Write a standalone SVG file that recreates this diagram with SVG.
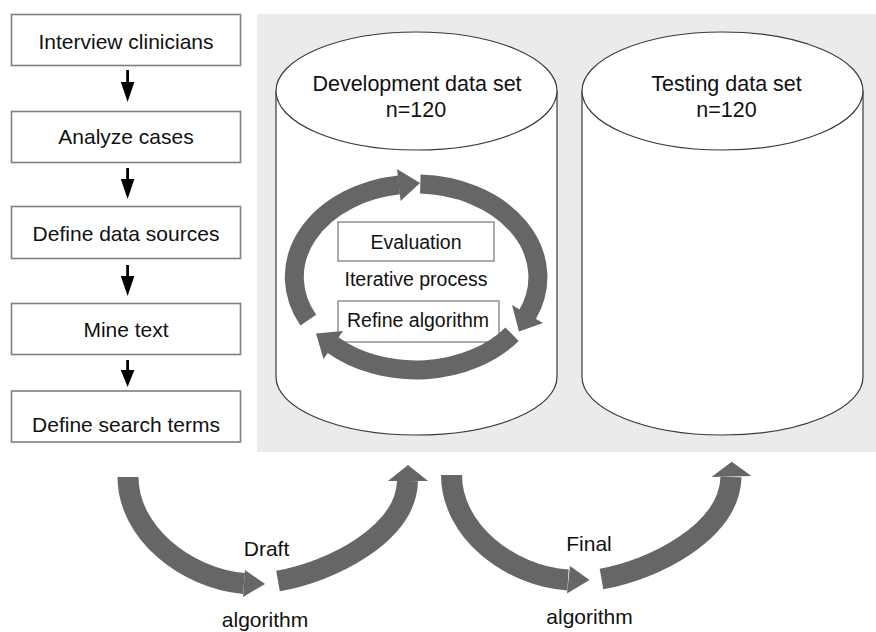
<svg xmlns="http://www.w3.org/2000/svg" width="876" height="632" viewBox="0 0 876 632">
  <style>
    .box { fill: #ffffff; stroke: #808080; stroke-width: 1.6; }
    .ibox { fill: #ffffff; stroke: #808080; stroke-width: 1.3; }
    .cyl { fill: #ffffff; stroke: #3a3a3a; stroke-width: 1.2; }
    .t { font-family: "Liberation Sans", Arial, Helvetica, sans-serif; fill: #111111; text-anchor: middle; }
    .band { fill: none; stroke: #666666; stroke-linecap: butt; }
    .head { fill: #666666; }
  </style>
  <rect x="0" y="0" width="876" height="632" fill="#ffffff"/>
  <rect id="panel" x="257" y="14" width="619" height="438" fill="#ebebeb"/>

  <g id="n1"><rect class="box" x="11.5" y="14.5" width="229" height="51"/><text class="t" x="126" y="49" font-size="21">Interview clinicians</text></g>
  <g id="n2"><rect class="box" x="11.5" y="111.5" width="229" height="51"/><text class="t" x="126" y="144" font-size="21">Analyze cases</text></g>
  <g id="n3"><rect class="box" x="11.5" y="206.5" width="229" height="52"/><text class="t" x="126" y="240.5" font-size="21">Define data sources</text></g>
  <g id="n4"><rect class="box" x="11.5" y="303.5" width="229" height="51"/><text class="t" x="126" y="336.5" font-size="21">Mine text</text></g>
  <g id="n5"><rect class="box" x="11.5" y="391" width="229" height="51"/><text class="t" x="126" y="432" font-size="21">Define search terms</text></g>

  <g id="dev">
    <path class="cyl" d="M276,91 L276,377 A140.5,58 0 0 0 557,377 L557,91"/>
    <ellipse class="cyl" cx="416.5" cy="91" rx="140.5" ry="59"/>
    <text class="t" x="417" y="91" font-size="21.5">Development data set</text>
    <text class="t" x="416" y="116.5" font-size="21.5">n=120</text>
  </g>
  <g id="test">
    <path class="cyl" d="M582,91 L582,377 A140.5,58 0 0 0 863,377 L863,91"/>
    <ellipse class="cyl" cx="722.5" cy="91" rx="140.5" ry="59"/>
    <text class="t" x="726.5" y="91" font-size="21.5">Testing data set</text>
    <text class="t" x="726.5" y="116.5" font-size="21.5">n=120</text>
  </g>

  <g id="eval"><rect class="ibox" x="338" y="222" width="156" height="39"/><text class="t" x="416" y="248.5" font-size="19.5">Evaluation</text></g>
  <text id="iter" class="t" x="416" y="286" font-size="19.5">Iterative process</text>
  <g id="refine"><rect class="ibox" x="338" y="301" width="161" height="41"/><text class="t" x="418" y="327" font-size="19.5">Refine algorithm</text></g>

  <g id="connectors">
    <!-- left column arrows -->
    <g fill="#000000">
      <rect x="126.2" y="70" width="2.8" height="13"/><polygon points="120.8,82 134.4,82 127.6,102"/>
      <rect x="126.2" y="168" width="2.8" height="12"/><polygon points="120.8,179 134.4,179 127.6,199"/>
      <rect x="126.2" y="265" width="2.8" height="12"/><polygon points="120.8,276 134.4,276 127.6,296"/>
      <rect x="126.2" y="360" width="2.8" height="11"/><polygon points="120.8,370 134.4,370 127.6,387"/>
    </g>
    <!-- iterative ring -->
    <path class="band" stroke-width="19" d="M308.3,320.2 A122,93 0 0 1 399,184.9"/>
    <polygon class="head" points="397,169 420,183 400.6,201"/>
    <path class="band" stroke-width="19" d="M420.3,184.1 A122,93 0 0 1 527.4,314.8"/>
    <polygon class="head" points="543,323 519,331.5 512,305"/>
    <path class="band" stroke-width="19" d="M512.1,334.3 A122,93 0 0 1 332.8,345"/>
    <polygon class="head" points="343,331 316,333.5 323.5,359"/>
  </g>
  <g id="bottom-arrows">
    <!-- draft algorithm arrows -->
    <path class="band" stroke="#646464" stroke-width="21" d="M128,477 C128,532 185,578 244,583.5"/>
    <polygon class="head" points="245,570 265,584 243,597"/>
    <path class="band" stroke="#646464" stroke-width="21" d="M278,581 C330,572 406,535 407.5,481"/>
    <polygon class="head" points="388,481 408,465 428,481"/>
    <!-- final algorithm arrows -->
    <path class="band" stroke="#646464" stroke-width="21" d="M451.5,475 C451.5,530 508.5,576 568,580"/>
    <polygon class="head" points="570,566 589.5,580 567,593.5"/>
    <path class="band" stroke="#646464" stroke-width="21" d="M601.5,579 C653.5,570 729.5,532 731,477"/>
    <polygon class="head" points="711.5,477 731.7,461.7 751.5,476"/>
  </g>

  <g id="labels">
    <text class="t" x="266.5" y="555.5" font-size="21">Draft</text>
    <text class="t" x="265" y="627" font-size="21">algorithm</text>
    <text class="t" x="589" y="551" font-size="21">Final</text>
    <text class="t" x="589.5" y="624" font-size="21">algorithm</text>
  </g>
</svg>
